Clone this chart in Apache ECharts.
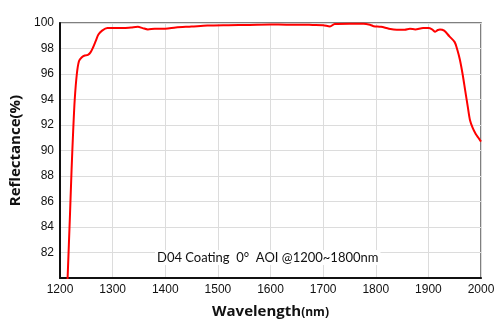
<!DOCTYPE html>
<html><head><meta charset="utf-8">
<script src="https://cdn.jsdelivr.net/npm/echarts@6/dist/echarts.min.js"></script>
<style>html,body{margin:0;padding:0;background:#fff}#c{width:500px;height:334px}</style>
</head><body><div id="c"></div>
<script>
var wavelengths = [1214,1219,1222,1225,1228,1232,1236,1241,1247,1253,1258,1263,1268,1273,1280,1290,1300,1320,1335,1348,1357,1367,1380,1400,1420,1450,1480,1520,1560,1600,1630,1656,1680,1700,1713,1722,1750,1777,1790,1796,1810,1825,1840,1855,1865,1875,1890,1900,1907,1913,1918,1922,1930,1940,1950,1955,1960,1965,1970,1975,1979,1984,1990,1995,2000];
var reflectance = [79.5,85,88.5,91.5,94,96,97,97.3,97.45,97.5,97.7,98.1,98.6,99.1,99.4,99.6,99.6,99.6,99.65,99.7,99.6,99.5,99.55,99.55,99.65,99.72,99.8,99.83,99.85,99.88,99.87,99.87,99.85,99.83,99.73,99.93,99.95,99.95,99.85,99.75,99.7,99.55,99.47,99.47,99.55,99.5,99.6,99.6,99.5,99.32,99.45,99.5,99.4,98.95,98.5,97.9,97.1,96,94.7,93.4,92.4,91.8,91.3,91,90.7];
var annotation = "D04 Coating  0°  AOI @1200~1800nm";
var xName = "Wavelength";
var xUnit = "(nm)";
var yName = "Reflectance(%)";

var chart = echarts.init(document.getElementById('c'));
chart.setOption({
  animation: false,
  grid: {left: 60, right: 19, top: 23, bottom: 56, show: true, borderColor: '#555', borderWidth: 1.5},
  xAxis: {
    type: 'value', min: 1200, max: 2000, interval: 100,
    name: '{a|' + xName + '}{b|' + xUnit + '}', nameLocation: 'middle', nameGap: 26,
    nameTextStyle: {rich: {
      a: {fontFamily: 'Open Sans', fontWeight: 'bold', fontSize: 15, color: '#111'},
      b: {fontFamily: 'Open Sans', fontWeight: 'bold', fontSize: 12, color: '#111', padding: [3,0,0,0]}
    }},
    axisLine: {show: true, lineStyle: {color: '#111', width: 2}},
    axisTick: {show: false},
    axisLabel: {fontFamily: 'Liberation Sans', fontSize: 12, color: '#111', margin: 6,
      formatter: function(v){ return String(v); }},
    splitLine: {show: true, lineStyle: {color: '#dcdcdc', width: 1}}
  },
  yAxis: {
    type: 'value', min: 80, max: 100, interval: 2,
    name: yName, nameLocation: 'middle', nameGap: 34,
    nameTextStyle: {fontFamily: 'Open Sans', fontWeight: 'bold', fontSize: 15, color: '#111'},
    axisLine: {show: true, lineStyle: {color: '#111', width: 2}},
    axisTick: {show: false},
    axisLabel: {fontFamily: 'Liberation Sans', fontSize: 12, color: '#111', margin: 6,
      formatter: function(v){ return v === 80 ? '' : String(v); }},
    splitLine: {show: true, lineStyle: {color: '#dcdcdc', width: 1}}
  },
  graphic: [{
    type: 'text', left: 155, top: 250, z: 10,
    style: {text: annotation, fontFamily: 'Lato', fontSize: 13, fill: '#111',
      backgroundColor: '#fff', padding: [1, 2, 1, 2]}
  }],
  series: [{
    type: 'line', data: wavelengths.map(function(w,i){return [w, reflectance[i]];}),
    smooth: 0.3, showSymbol: false, clip: true,
    lineStyle: {color: '#ff0000', width: 2}
  }]
});
</script></body></html>
